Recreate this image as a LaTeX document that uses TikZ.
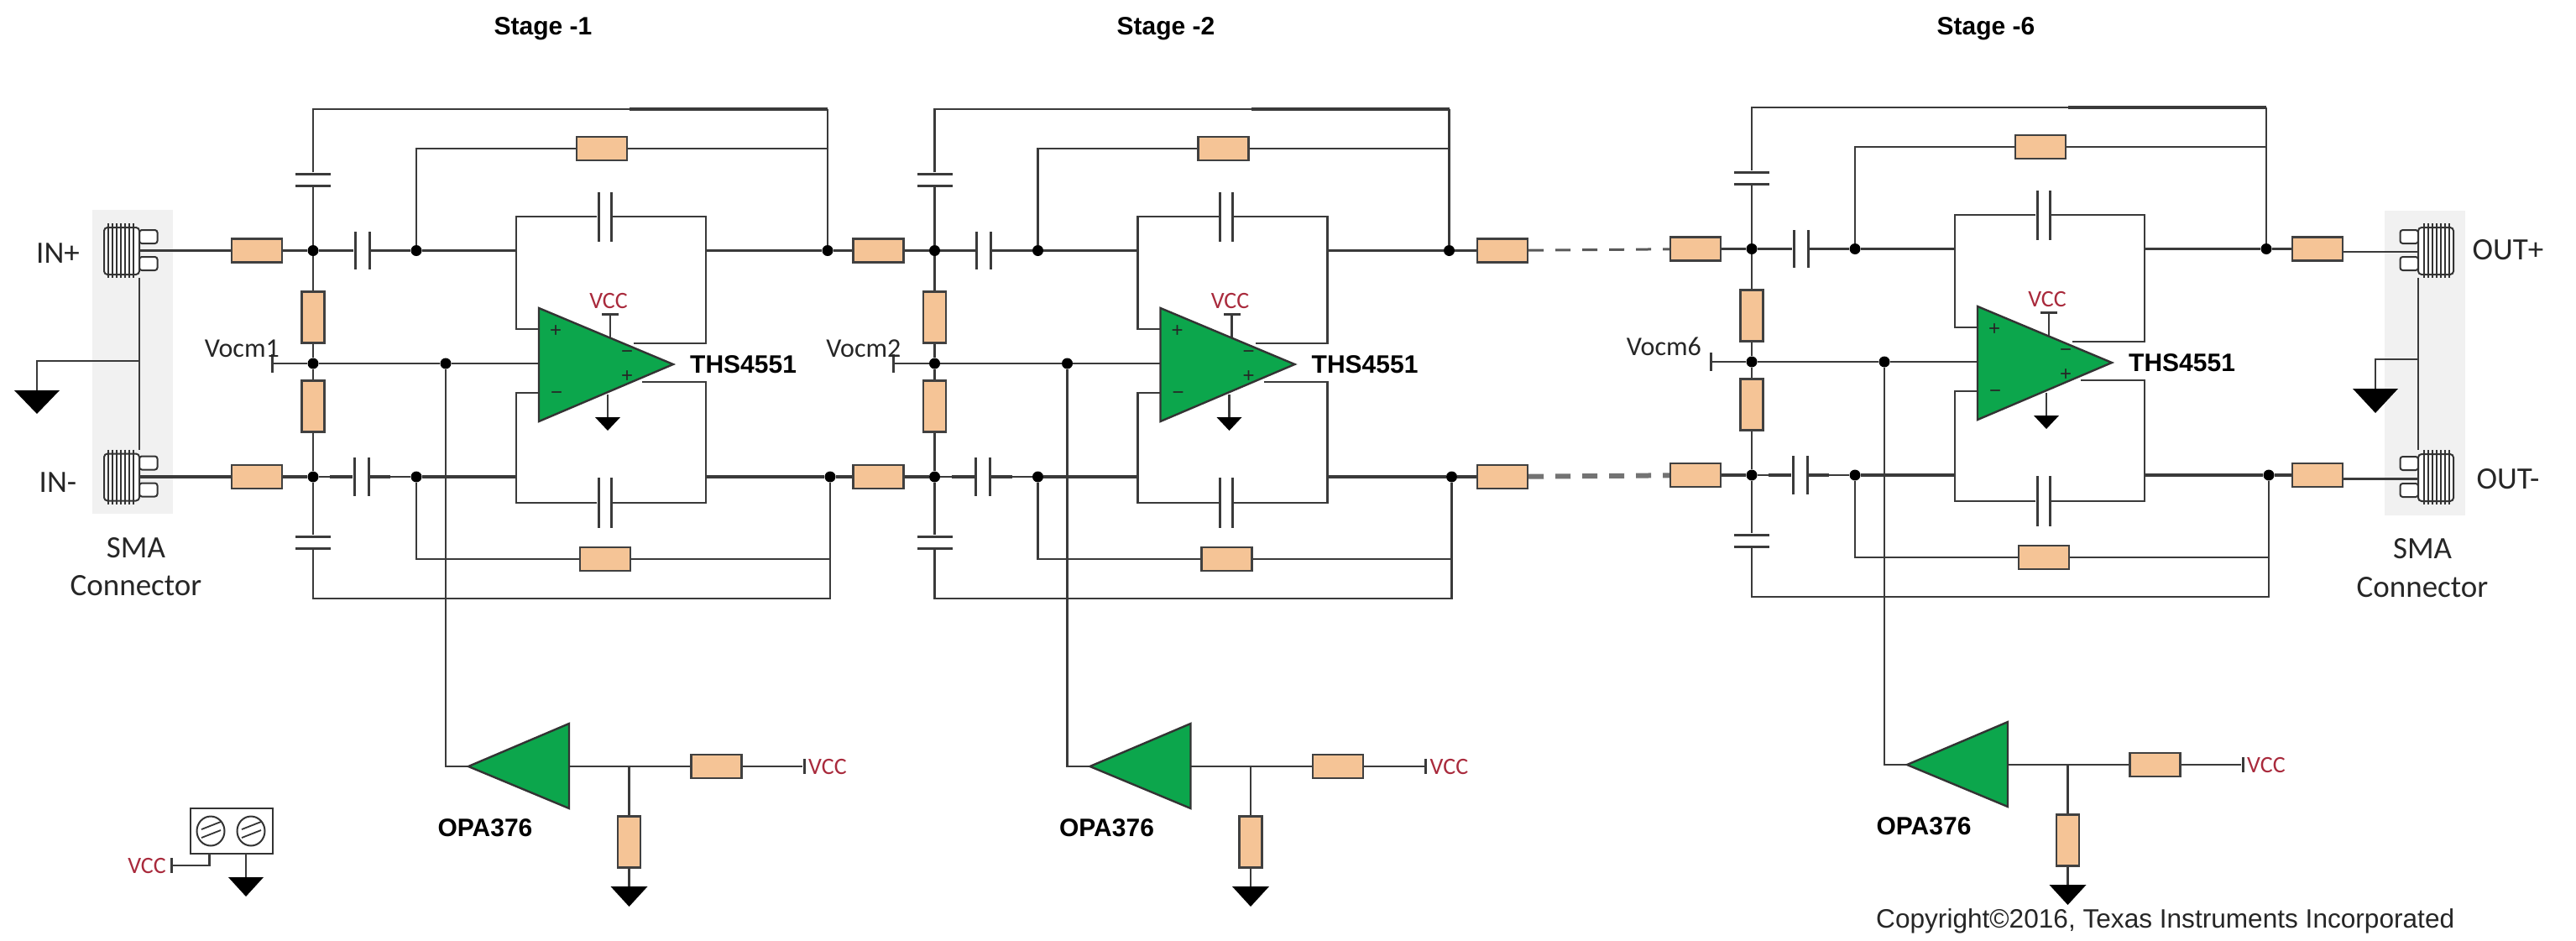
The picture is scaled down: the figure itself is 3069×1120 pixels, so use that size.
\documentclass[tikz,border=0pt]{standalone}
\usepackage{fontspec}
\usetikzlibrary{shapes.geometric}
\setmainfont{Liberation Sans}
\newfontfamily\calfont{Carlito}
\definecolor{wirec}{HTML}{3A3A3A}
\definecolor{resc}{HTML}{F5C496}
\definecolor{ampc}{HTML}{0CA64C}
\definecolor{vccc}{HTML}{A92A3C}
\definecolor{smac}{HTML}{F1F1F1}
\tikzset{
 wire/.style={draw=wirec,line width=2.6pt},
 heavy/.style={draw=wirec,line width=3.6pt},
 resh/.style={draw=black!75,line width=2.4pt,fill=resc,minimum width=60pt,minimum height=28pt,inner sep=0pt},
 resv/.style={draw=black!75,line width=2.4pt,fill=resc,minimum width=27pt,minimum height=61pt,inner sep=0pt},
 dotn/.style={circle,fill=black,minimum size=13pt,inner sep=0pt},
 hplate/.style={rectangle,fill=wirec,minimum width=42pt,minimum height=3pt,inner sep=0pt},
 vplate/.style={rectangle,fill=wirec,minimum width=3pt,minimum height=#1,inner sep=0pt},
 amp/.style={draw=black!80,line width=2.4pt,fill=ampc,line join=miter},
 lbl/.style={font=\calfont\fontsize{37}{42}\selectfont,text=black!85,inner sep=0pt},
 vocm/.style={font=\calfont\fontsize{32}{38}\selectfont,text=black!85,inner sep=0pt,anchor=east},
 vcclbl/.style={font=\calfont\fontsize{28}{33}\selectfont,text=vccc,inner sep=0pt},
 blbl/.style={font=\bfseries\fontsize{30}{36}\selectfont,text=black,inner sep=0pt},
 sgn/.style={font=\fontsize{24}{28}\selectfont,text=black!85,inner sep=0pt},
}
\newcommand\gndmark[3]{\fill[black] (#1) ++(-#2,0) -- ++(2*#2,0) -- ++(-#2,#3) -- cycle;}
\newcommand\ampstage[4]{%
\begin{scope}[shift={#2}]
 \node[resh] (#1rin) at (306,298.5) {};
 \node[resh] (#1rinl) at (306,568) {};
 \node[dotn] (#1a) at (373,298.5) {};
 \node[dotn] (#1m) at (373,433) {};
 \node[dotn] (#1f) at (373,568) {};
 \node[dotn] (#1b) at (496,298.5) {};
 \node[dotn] (#1e) at (496,568) {};
 \node[dotn] (#1c) at (986,298.5) {};
 \node[dotn] (#1d) at (989,568) {};
 \node[dotn] (#1n) at (531,433) {};
 \node[resv] (#1rv1) at (373,378) {};
 \node[resv] (#1rv2) at (373,484) {};
 \node[resh] (#1rfu) at (717,177) {};
 \node[resh] (#1rfl) at (721,666) {};
 \node[hplate] (#1ctu) at (373,207) {};
 \node[hplate] (#1ctl) at (373,221.5) {};
 \node[hplate] (#1cbu) at (373,639) {};
 \node[hplate] (#1cbl) at (373,653.5) {};
 \node[vplate=45pt] (#1csu1) at (423,298.5) {};
 \node[vplate=45pt] (#1csu2) at (440,298.5) {};
 \node[vplate=46pt] (#1csl1) at (422,568) {};
 \node[vplate=46pt] (#1csl2) at (439,568) {};
 \node[vplate=59pt] (#1cfu1) at (713,258) {};
 \node[vplate=59pt] (#1cfu2) at (728,258) {};
 \node[vplate=60pt] (#1cfl1) at (713,599) {};
 \node[vplate=60pt] (#1cfl2) at (728,599) {};
 \coordinate (#1tl) at (373,130);
 \coordinate (#1tm) at (750,130);
 \coordinate (#1tr) at (986,130);
 \coordinate (#1bt) at (373,713);
 \coordinate (#1bl) at (615,298.5);
 \coordinate (#1br) at (841,298.5);
 \coordinate (#1bll) at (615,568);
 \coordinate (#1brl) at (841,568);
 \coordinate (#1su1) at (395,298.5);
 \coordinate (#1su2) at (467,298.5);
 \coordinate (#1sl1) at (393,568);
 \coordinate (#1sl2) at (465,568);
 \coordinate (#1inp) at (645,392);
 \coordinate (#1inn) at (645,468);
 \coordinate (#1inm) at (645,433);
 \coordinate (#1opu) at (755,409);
 \coordinate (#1opl) at (765,455);
 \coordinate (#1vin) at (727,410);
 \coordinate (#1gin) at (724,470);
 \coordinate (#1gt) at (724,497);
 \node[rectangle,fill=wirec,minimum width=20pt,minimum height=3pt,inner sep=0pt] (#1vt) at (727,374) {};
 \node[vplate=22pt] (#1vk) at (324,433) {};
 \node[vocm] (#1vl) at (#3,415) {#4};
 \node[vcclbl] (#1vcc) at (725,359) {VCC};
 % wires
 \draw[wire] (#1a) -- (#1csu1);
 \draw[heavy] (#1su1) -- (#1csu1);
 \draw[wire] (#1csu2) -- (#1b);
 \draw[heavy] (#1csu2) -- (#1su2);
 \draw[wire] (#1f) -- (#1csl1);
 \draw[heavy] (#1sl1) -- (#1csl1);
 \draw[wire] (#1csl2) -- (#1e);
 \draw[heavy] (#1csl2) -- (#1sl2);
 \draw[wire] (#1a) -- (#1ctl);
 \draw[wire] (#1ctu) -- (#1tl) -- (#1tm);
 \draw[heavy] (#1tm) -- (#1tr);
 \draw[wire] (#1tr) -- (#1c);
 \draw[wire] (#1f) -- (#1cbu);
 \draw[wire] (#1cbl) -- (#1bt) -| (#1d);
 \draw[wire] (#1a) -- (#1rv1);
 \draw[wire] (#1rv1) -- (#1m);
 \draw[wire] (#1m) -- (#1rv2);
 \draw[wire] (#1rv2) -- (#1f);
 \draw[wire] (#1rin) -- (#1a);
 \draw[heavy] (#1rinl) -- (#1f);
 \draw[wire] (#1b) |- (#1rfu);
 \draw[wire] (#1rfu) -| (#1c);
 \draw[wire] (#1e) |- (#1rfl);
 \draw[wire] (#1rfl) -| (#1d);
 \draw[wire] (#1b) -- (#1bl);
 \draw[heavy] (#1e) -- (#1bll);
 \draw[wire] (#1cfu1) -| (#1bl) |- (#1inp);
 \draw[wire] (#1cfu2) -| (#1br) |- (#1opu);
 \draw[wire] (#1cfl1) -| (#1bll) |- (#1inn);
 \draw[wire] (#1cfl2) -| (#1brl) |- (#1opl);
 \draw[wire] (#1br) -- (#1c);
 \draw[heavy] (#1brl) -- (#1d);
 \draw[wire] (#1vk) -- (#1m);
 \draw[wire] (#1m) -- (#1n);
 \draw[wire] (#1n) -- (#1inm);
 \draw[wire] (#1vt) -- (#1vin);
 \draw[wire] (#1gin) -- (#1gt);
 \gndmark{#1gt}{15}{16}
 \draw[amp] (642,367) coordinate (#1ampa) -- (802,434) coordinate (#1ampt) -- (642,502) coordinate (#1ampb) -- cycle;
 \node[sgn] (#1s1) at (662,395) {+};
 \node[sgn] (#1s2) at (663,471) {−};
 \node[sgn] (#1s3) at (747,422) {−};
 \node[sgn] (#1s4) at (747,449) {+};
 \node[blbl,anchor=west] (#1ths) at (822,434) {THS4551};
 % OPA376 block
 \coordinate (#1ot) at (558,913);
 \coordinate (#1ob) at (678,913);
 \coordinate (#1oj) at (749.5,913);
 \coordinate (#1og) at (749.5,1056);
 \node[resh] (#1rs) at (853.5,913) {};
 \node[resv] (#1rg) at (749.5,1003) {};
 \node[vplate=18pt] (#1ok) at (958,913) {};
 \node[vcclbl,anchor=west] (#1ovcc) at (963,913) {VCC};
 \draw[wire] (#1n) |- (#1ot);
 \draw[wire] (#1ob) -- (#1rs);
 \draw[wire] (#1rs) -- (#1ok);
 \draw[wire] (#1oj) -- (#1rg);
 \draw[wire] (#1rg) -- (#1og);
 \gndmark{#1og}{22}{24}
 \draw[amp] (#1ot) -- (678,862) -- (678,963) -- cycle;
 \node[blbl] (#1ol) at (578,986) {OPA376};
\end{scope}}
\newcommand\smablock[3]{% prefix, transform, y offset between
\begin{scope}[#2]
 \draw[line width=2pt,draw=black!80,fill=white,rounded corners=3pt] (166,#3+8) rectangle (187.5,#3+24);
 \draw[line width=2pt,draw=black!80,fill=white,rounded corners=3pt] (166,#3+40) rectangle (187.5,#3+56);
 \draw[line width=2pt,draw=black!80,fill=white,rounded corners=4pt] (124,#3+5) rectangle (166,#3+61);
 \foreach \xx in {129,134,139,144,149,154,159}
  \draw[line width=2pt,draw=black!80] (\xx,#3) -- (\xx,#3+65);
 \coordinate (#1tab) at (166,#3+32.5);
 \coordinate (#1top) at (166,#3);
 \coordinate (#1bot) at (166,#3+65);
\end{scope}}
\begin{document}
\begin{tikzpicture}[x=1pt,y=-1pt]
\useasboundingbox (0,0) rectangle (3069,1120);
\fill[white] (0,0) rectangle (3069,1120);
% SMA backgrounds
\fill[smac] (110,250) rectangle (206,612);
\fill[smac] (2841,251) rectangle (2937,614);
% Headers
\node[blbl] (h1) at (647,34) {Stage -1};
\node[blbl] (h2) at (1389,34) {Stage -2};
\node[blbl] (h6) at (2366,34) {Stage -6};
% Stages
\ampstage{s}{(0,0)}{333}{Vocm1}
\ampstage{t}{(740.5,0)}{333}{Vocm2}
\ampstage{u}{(1714,-2)}{313}{Vocm6}
% Left SMA
\smablock{lu}{}{266}
\smablock{ll}{}{535.5}
\draw[wire] (lutab) -- (srin);
\draw[heavy] (lltab) -- (srinl);
\draw[wire] (lubot) -- (lltop);
\coordinate (lgj) at (166,430);
\coordinate (lgt) at (44,465);
\draw[wire] (lgj) -| (lgt);
\gndmark{lgt}{27}{28}
\node[lbl] (inp) at (69,302) {IN+};
\node[lbl] (inn) at (69,575) {IN-};
\node[lbl] (sma1) at (162,653) {SMA};
\node[lbl] (con1) at (162,698) {Connector};
% Stage links
\draw[wire] (sc) -- (trin);
\draw[heavy] (sd) -- (trinl);
\node[resh] (to) at (1790,298.5) {};
\node[resh] (tol) at (1790,568) {};
\draw[wire] (tc) -- (to);
\draw[heavy] (td) -- (tol);
\draw[draw=black!65,line width=3pt,dash pattern=on 18pt off 14pt] (to) -- (urin);
\draw[draw=black!55,line width=6pt,dash pattern=on 18pt off 14pt] (tol) -- (urinl);
% Right SMA
\node[resh] (uo) at (2761,296.5) {};
\node[resh] (uol) at (2761,566) {};
\draw[wire] (uc) -- (uo);
\draw[heavy] (ud) -- (uol);
\smablock{ru}{xscale=-1,xshift=-3047pt}{266}
\smablock{rl}{xscale=-1,xshift=-3047pt}{536}
\coordinate (ruw) at (2860,300);
\coordinate (rlw) at (2860,570.5);
\draw[wire] (uo.east |- ruw) -- (ruw) -- (rutab |- ruw);
\draw[wire] (uol.east |- rlw) -- (rlw) -- (rltab |- rlw);
\draw[wire] (rubot) -- (rltop);
\coordinate (rgj) at (2881,428);
\coordinate (rgt) at (2830,463);
\draw[wire] (rgj) -| (rgt);
\gndmark{rgt}{27}{29}
\node[lbl] (op) at (2988,298) {OUT+};
\node[lbl] (on) at (2988,571) {OUT-};
\node[lbl] (sma2) at (2886,654) {SMA};
\node[lbl] (con2) at (2886,700) {Connector};
% Terminal block
\node[draw=black!80,line width=2.4pt,fill=white,minimum width=98pt,minimum height=54pt,inner sep=0pt] (tb) at (276,990) {};
\node[ellipse,draw=black!80,line width=2pt,minimum width=33pt,minimum height=35pt,inner sep=0pt] (tb1) at (251,990) {};
\node[ellipse,draw=black!80,line width=2pt,minimum width=33pt,minimum height=35pt,inner sep=0pt] (tb2) at (299,990) {};
\draw[draw=black!80,line width=1.8pt] (240,988) -- (263,979) (240,998) -- (263,989);
\draw[draw=black!80,line width=1.8pt] (288,988) -- (311,979) (288,998) -- (311,989);
\coordinate (tbv) at (249.5,1017);
\coordinate (tbc) at (249.5,1031);
\node[vplate=18pt] (tbk) at (204.6,1031) {};
\node[vcclbl,anchor=east] (tbl) at (198,1031) {VCC};
\draw[wire] (tbv) -- (tbc) -- (tbk);
\coordinate (tbg) at (293,1017);
\coordinate (tbgt) at (293,1045);
\draw[wire] (tbg) -- (tbgt);
\gndmark{tbgt}{21}{23}
% Copyright
\node[font=\fontsize{31.6}{36}\selectfont,text=black!85,inner sep=0pt,anchor=west] (cr) at (2235,1097) {Copyright©2016, Texas Instruments Incorporated};
\end{tikzpicture}
\end{document}
